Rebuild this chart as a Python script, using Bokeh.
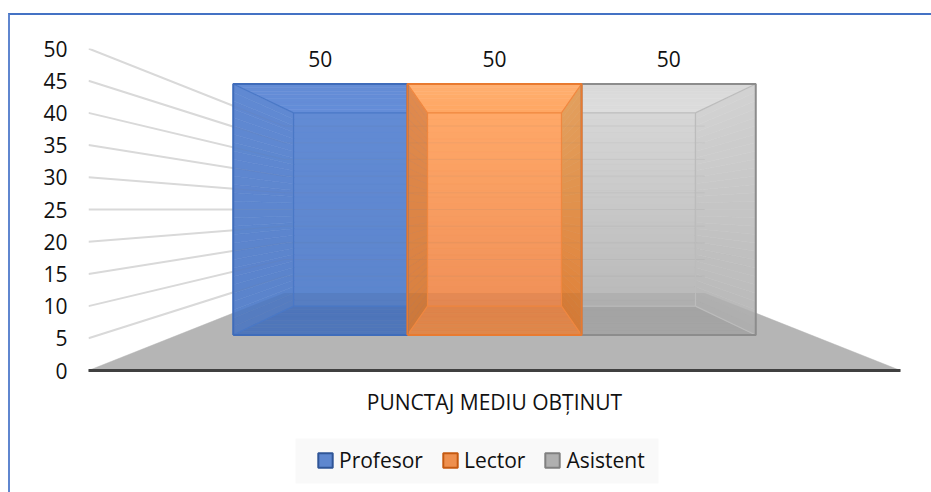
from bokeh.core.properties import value
from bokeh.embed import file_html
from bokeh.models import BoxAnnotation, ColumnDataSource, FixedTicker, Legend, LegendItem, Range1d
from bokeh.plotting import figure
from bokeh.resources import INLINE

categories = ["Profesor", "Lector", "Asistent"]
values = [50, 50, 50]
group_label = "PUNCTAJ MEDIU OBȚINUT"
y_ticks = [0, 5, 10, 15, 20, 25, 30, 35, 40, 45, 50]
FONT = "Open Sans"

# perspective scale of each depth plane (1 = plane of the axis line)
S_FRONT, S_BACK, S_WALL = 0.78, 0.60, 0.518
BAR_W = 0.275
Y_MAX = 50


def proj(x, v, s):
    return s * x, Y_MAX / 2 + (v - Y_MAX / 2) * s


def pts(*points):
    xy = [proj(*q) for q in points]
    return [a for a, _ in xy], [b for _, b in xy]


def mix(c0, c1, t):
    a = [int(c0[i:i + 2], 16) for i in (1, 3, 5)]
    b = [int(c1[i:i + 2], 16) for i in (1, 3, 5)]
    return "#%02x%02x%02x" % tuple(round(p + (q - p) * t) for p, q in zip(a, b))


p = figure(width=923, height=479, output_backend="svg", toolbar_location=None,
           x_range=Range1d(-0.5, 0.5), y_range=Range1d(-Y_MAX * 122 / 322, Y_MAX), x_axis_location=None,
           min_border_left=78, min_border_right=33, min_border_top=33, min_border_bottom=2,
           outline_line_color=None, background_fill_color="white", border_fill_color="white")
p.margin = (13, 0, 0, 8)
p.styles = {"border-top": "2px solid #4472c4", "border-left": "2px solid #5f86cf", "box-sizing": "border-box"}
p.grid.visible = False

p.yaxis.ticker = FixedTicker(ticks=y_ticks)
p.yaxis.axis_line_color = None
p.yaxis.major_tick_line_color = None
p.yaxis.minor_tick_line_color = None
p.yaxis.major_label_standoff = 15
p.yaxis.major_label_text_font = FONT
p.yaxis.major_label_text_font_size = "21px"
p.yaxis.major_label_text_color = "#111111"

# legend background
p.add_layout(BoxAnnotation(left=207, right=570, top=54, bottom=9, left_units="screen", right_units="screen",
                           top_units="screen", bottom_units="screen", fill_color="#f9f9f9", fill_alpha=1,
                           line_alpha=0, level="underlay"))

# floor
fx, fy = pts((-0.5, 0, 1), (-0.5, 0, S_WALL), (0.5, 0, S_WALL), (0.5, 0, 1))
p.patch(fx, fy, fill_color="#b5b5b5", line_color="#b5b5b5", line_width=0.5)

# category axis line and its label
ax, ay = pts((-0.5, 0, 1), (0.5, 0, 1))
p.line(ax, ay, line_color="#404040", line_width=3, line_cap="round")
p.text([0], [0], text=[group_label], text_font=value(FONT), text_font_size="21px", text_color="#111111",
       text_align="center", text_baseline="middle", y_offset=31)

# gridlines on the left wall and the back wall
grid = [v for v in y_ticks if v > 0]
wall = [pts((-0.5, v, 1), (-0.5, v, S_WALL)) for v in grid]
p.multi_line([w[0] for w in wall], [w[1] for w in wall], line_color="#d9d9d9", line_width=2)
back = [pts((-0.5, v, S_WALL), (0.5, v, S_WALL)) for v in grid]
p.multi_line([w[0] for w in back], [w[1] for w in back], line_color="#d9d9d9", line_width=1)

styles = [
    dict(fill="#5e87cf", line="#2f5597", outer="#3f6cba", inner="#4a78c6",
         left=("#6089d2", "#5a83cb"), top=("#648dd8", "#648dd6"), back=("#628bd4", "#5c85cd"),
         bottom=("#537cc4", "#547dc5"), right=None),
    dict(fill="#ee904f", line="#c55a11", outer="#e87a30", inner="#f0873f",
         left=("#e08a4e", "#d9803f"), top=("#ffa662", "#ffb071"), back=("#ffa868", "#f09058"),
         bottom=("#ea8b4e", "#ed8f4e"), right=("#e2a05e", "#e08038")),
    dict(fill="#b0b0b0", line="#808080", outer="#8c8c8c", inner="#bcbcbc",
         left=None, top=("#dddddd", "#d9d9d9"), back=("#d6d6d6", "#b9b9b9"),
         bottom=("#adadad", "#aeaeae"), right=("#d2d2d2", "#b8b8b8")),
]

# draw order: the middle bar sits above its neighbours
lefts = [-1.5 * BAR_W + i * BAR_W for i in range(len(categories))]
bar_l = lefts[0]
s_enter = abs(bar_l) * S_FRONT / 0.5
legend_renderers = {}
for i in (0, 2, 1):
    st, val, x0 = styles[i], values[i], lefts[i]
    x1 = x0 + BAR_W
    legend_renderers[i] = p.quad(left=[x0 * S_BACK], right=[x1 * S_BACK],
                                 top=[proj(0, val, S_BACK)[1]], bottom=[proj(0, 0, S_BACK)[1]],
                                 fill_color=st["fill"], line_color=st["line"], line_width=2)
    xs, ys, cs = [], [], []

    def band(points, color):
        a, b = pts(*points)
        xs.append(a); ys.append(b); cs.append(color)

    steps = 30
    for k in range(steps):
        v0, v1 = val * k / steps, val * (k + 1) / steps
        t = 1 - (k + 0.5) / steps
        band(((x0, v0, S_BACK), (x1, v0, S_BACK), (x1, v1, S_BACK), (x0, v1, S_BACK)), mix(*st["back"], t))
        for side, xx in (("left", x0), ("right", x1)):
            if st[side]:
                band(((xx, v0, S_FRONT), (xx, v1, S_FRONT), (xx, v1, S_BACK), (xx, v0, S_BACK)), mix(*st[side], t))
    for k in range(8):
        s0, s1 = S_BACK + (S_FRONT - S_BACK) * k / 8, S_BACK + (S_FRONT - S_BACK) * (k + 1) / 8
        t = (k + 0.5) / 8
        band(((x0, val, s0), (x1, val, s0), (x1, val, s1), (x0, val, s1)), mix(*st["top"], t))
        band(((x0, 0, s0), (x1, 0, s0), (x1, 0, s1), (x0, 0, s1)), mix(*st["bottom"], t))
    src = ColumnDataSource(dict(xs=xs, ys=ys, c=cs))
    p.patches("xs", "ys", source=src, fill_color="c", line_color="c", line_width=0.6)

    # floor and gridlines seen through this translucent bar, then its inner edges
    x_wall0 = x0 * S_FRONT / S_WALL
    x_wall1 = x1 * S_FRONT / S_WALL
    if i == 0:
        ox, oy = pts((-0.5, 0, s_enter), (-0.5, 0, S_WALL), (x1 * S_FRONT / S_WALL, 0, S_WALL), (x1, 0, S_FRONT), (x0, 0, S_FRONT))
    elif i == 2:
        ox, oy = pts((0.5, 0, s_enter), (0.5, 0, S_WALL), (x0 * S_FRONT / S_WALL, 0, S_WALL), (x0, 0, S_FRONT), (x1, 0, S_FRONT))
    else:
        ox, oy = pts((x_wall0, 0, S_WALL), (x_wall1, 0, S_WALL), (x1, 0, S_FRONT), (x0, 0, S_FRONT))
    p.patch(ox, oy, fill_color="#000000", fill_alpha=0.05, line_alpha=0)
    thru = []
    for v in grid:
        if i == 0:
            thru.append(pts((-0.5, v, s_enter), (-0.5, v, S_WALL), (x_wall1, v, S_WALL)))
        elif i == 2:
            thru.append(pts((x_wall0, v, S_WALL), (0.5, v, S_WALL)))
        else:
            thru.append(pts((x_wall0, v, S_WALL), (x_wall1, v, S_WALL)))
    p.multi_line([w[0] for w in thru], [w[1] for w in thru], line_color="#808080", line_alpha=0.1, line_width=1)
    inner = [pts((x0, 0, S_BACK), (x1, 0, S_BACK), (x1, val, S_BACK), (x0, val, S_BACK), (x0, 0, S_BACK))]
    for xx in (x0, x1):
        if (xx == x0 and st["left"]) or (xx == x1 and st["right"]):
            inner.append(pts((xx, val, S_FRONT), (xx, val, S_BACK)))
            inner.append(pts((xx, 0, S_FRONT), (xx, 0, S_BACK)))
    p.multi_line([w[0] for w in inner], [w[1] for w in inner], line_color=st["inner"], line_width=1.2)

# bar front edges
for i in (0, 2, 1):
    st, val, x0 = styles[i], values[i], lefts[i]
    x1 = x0 + BAR_W
    ex, ey = pts((x0, 0, S_FRONT), (x1, 0, S_FRONT), (x1, val, S_FRONT), (x0, val, S_FRONT), (x0, 0, S_FRONT))
    p.line(ex, ey, line_color=st["outer"], line_width=2)

# data labels
lx = [(lefts[i] + BAR_W / 2) * S_FRONT for i in range(3)]
ly = [proj(0, values[i], S_FRONT)[1] for i in range(3)]
p.text(lx, ly, text=[str(v) for v in values], text_font=value(FONT), text_font_size="21px",
       text_color="#111111", text_align="center", text_baseline="middle", y_offset=-25)

legend = Legend(items=[LegendItem(label=categories[i], renderers=[legend_renderers[i]]) for i in range(3)],
                location=(228, 18), orientation="horizontal", background_fill_alpha=0, border_line_color=None,
                glyph_width=18, glyph_height=18, label_standoff=5, spacing=18, padding=10, margin=0,
                label_text_font=FONT, label_text_font_size="21px", label_text_color="#111111")
p.add_layout(legend, "center")

open("out.html", "w").write(file_html(p, INLINE))
